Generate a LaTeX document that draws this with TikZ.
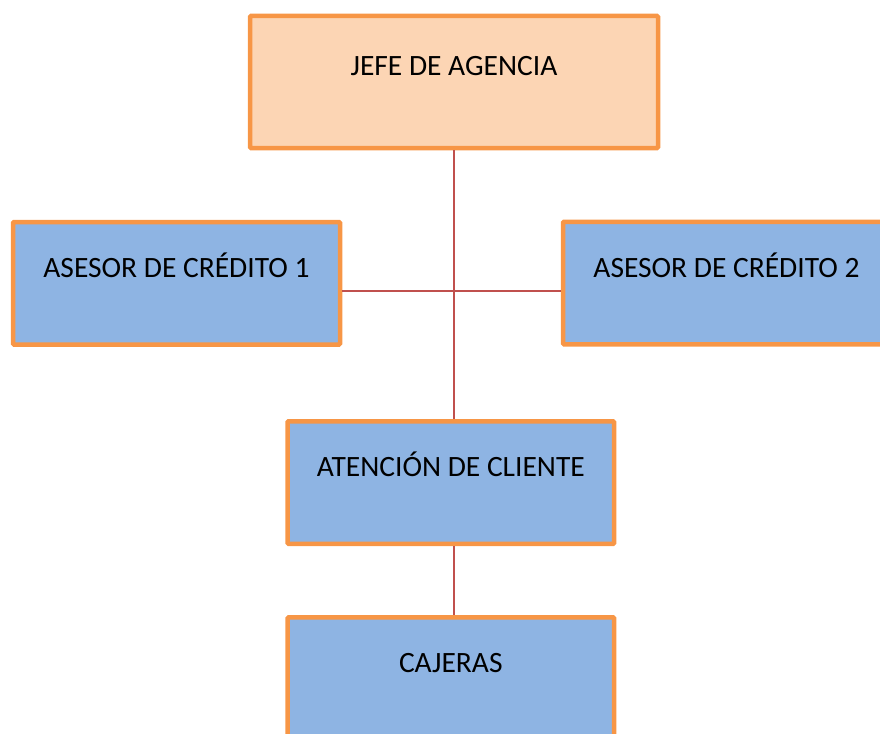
\documentclass[tikz,border=0pt]{standalone}
\usepackage{fontspec}
\setmainfont{Carlito}
\definecolor{boxline}{HTML}{F79646}
\definecolor{peach}{HTML}{FCD5B4}
\definecolor{skyblue}{HTML}{8EB4E3}
\definecolor{linkred}{HTML}{C0504D}
\begin{document}
\begin{tikzpicture}[x=1pt,y=-1pt,
  box/.style={draw=boxline,fill=skyblue,line width=4.5pt,rounded corners=1pt,inner sep=0pt,minimum width=327pt,text height=55.5pt,text depth=67pt,font=\fontsize{29.5}{31}\selectfont},
  link/.style={draw=linkred,line width=1.5pt}]
\useasboundingbox (0,0) rectangle (880,733);
\node[box,fill=peach,minimum width=408pt,text height=60pt,text depth=72pt] (jefe) at (454,82) {JEFE DE AGENCIA};
\node[box] (asesor1) at (176.5,283.3) {ASESOR DE CRÉDITO 1};
\node[box] (asesor2) at (726.5,283) {ASESOR DE CRÉDITO 2};
\node[box,minimum width=326.5pt] (atencion) at (450.8,482.6) {ATENCIÓN DE CLIENTE};
\node[box,minimum width=326.5pt] (cajeras) at (450.8,678.7) {CAJERAS};
\coordinate (cruce) at (454,291);
\draw[link] (jefe.south) -- (jefe.south |- atencion.north);
\draw[link] (asesor1.east |- cruce) -- (asesor2.west |- cruce);
\draw[link] (jefe.south |- atencion.south) -- (jefe.south |- cajeras.north);
\end{tikzpicture}
\end{document}
